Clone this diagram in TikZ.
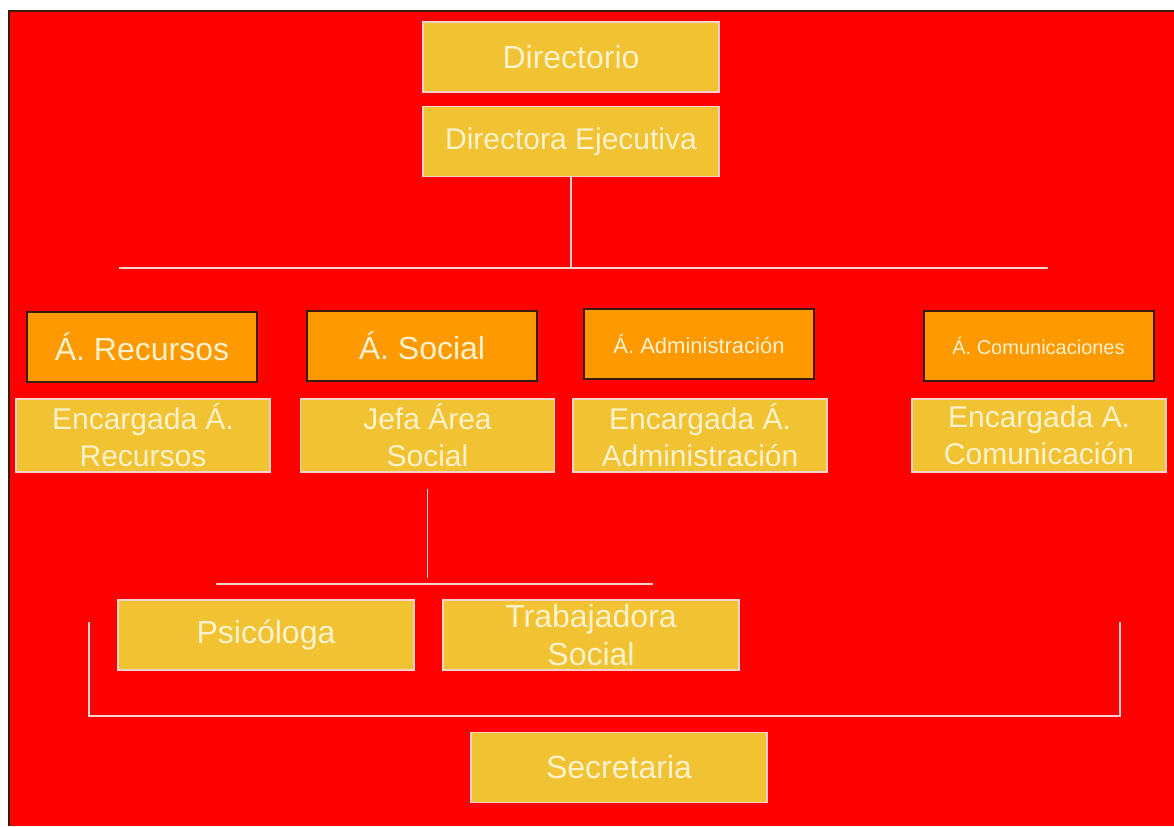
\documentclass[tikz,border=0pt]{standalone}
\usepackage{fontspec}
\setmainfont{Liberation Sans}

\definecolor{rojo}{HTML}{FF0000}
\definecolor{dorado}{HTML}{F1C232}
\definecolor{naranja}{HTML}{FF9900}
\definecolor{crema}{HTML}{FFF2CC}
\definecolor{rosado}{HTML}{F6D2CC}
\definecolor{marron}{HTML}{3A1A0A}

\tikzset{
  cargo/.style={draw=rosado, line width=0.7pt, fill=dorado, text=crema,
    align=center, inner sep=0pt, font=\fontsize{16}{19}\selectfont},
  area/.style={draw=marron, line width=1pt, fill=naranja, text=crema,
    align=center, inner sep=0pt, minimum width=115pt, minimum height=35pt,
    font=\fontsize{16}{19}\selectfont},
  grande/.style={minimum width=148pt, minimum height=35pt},
  encargada/.style={minimum width=127pt, minimum height=36.5pt,
    font=\fontsize{15}{18.5}\selectfont},
  linea/.style={draw=rosado, line width=0.8pt},
}

\begin{document}
\begin{tikzpicture}[x=0.5pt, y=-0.5pt]

\useasboundingbox (0,0) rectangle (1174,826);
\fill[white] (0,0) rectangle (1174,826);
\fill[rojo] (9,11) rectangle (1174,826);
\draw[marron, line width=1.3pt] (9,826) -- (9,11) -- (1174,11);

% direccion
\node[cargo, grande] (Directorio) at (571,57) {Directorio};
\node[cargo, grande, font=\fontsize{15}{18}\selectfont] (DirectoraEjecutiva) at (571,141.5) {Directora Ejecutiva};

% areas
\node[area] (ARecursos) at (142,346.5) {Á. Recursos};
\node[area] (ASocial) at (422,346) {Á. Social};
\node[area, font=\fontsize{11}{13}\selectfont] (AAdministracion) at (699,344) {Á. Administración};
\node[area, font=\fontsize{10}{12}\selectfont] (AComunicaciones) at (1038.5,346) {Á. Comunicaciones};

\node[cargo, encargada] (EncRecursos) at (143,435.5) {Encargada Á.\\Recursos};
\node[cargo, encargada] (JefaSocial) at (427.5,435.5) {Jefa Área\\Social};
\node[cargo, encargada] (EncAdministracion) at (700,435.5) {Encargada Á.\\Administración};
\node[cargo, encargada] (EncComunicacion) at (1039,435.5) {Encargada A.\\Comunicación};

% area social
\node[cargo, grande] (Psicologa) at (266,635) {Psicóloga};
\node[cargo, grande] (Trabajadora) at (591,635) {Trabajadora\\Social};

\node[cargo, grande] (Secretaria) at (619,767.5) {Secretaria};

\coordinate (busIzq) at (119,268);
\coordinate (busDer) at (1048,268);
\coordinate (finSocial) at (428,578);
\coordinate (subIzq) at (216,584);
\coordinate (subDer) at (653,584);
\coordinate (llaveIzq) at (89,622);
\coordinate (llaveDer) at (1120,622);
\coordinate (llaveBase) at (0,716);

\draw[linea] (DirectoraEjecutiva.south) -- (DirectoraEjecutiva.south |- busIzq);
\draw[linea] (busIzq) -- (busDer);
\draw[linea, shorten <=8pt] (JefaSocial.south) -- (JefaSocial.south |- finSocial);
\draw[linea] (subIzq) -- (subDer);
\draw[linea] (llaveIzq) |- (llaveBase -| llaveDer) -- (llaveDer);
\end{tikzpicture}
\end{document}
